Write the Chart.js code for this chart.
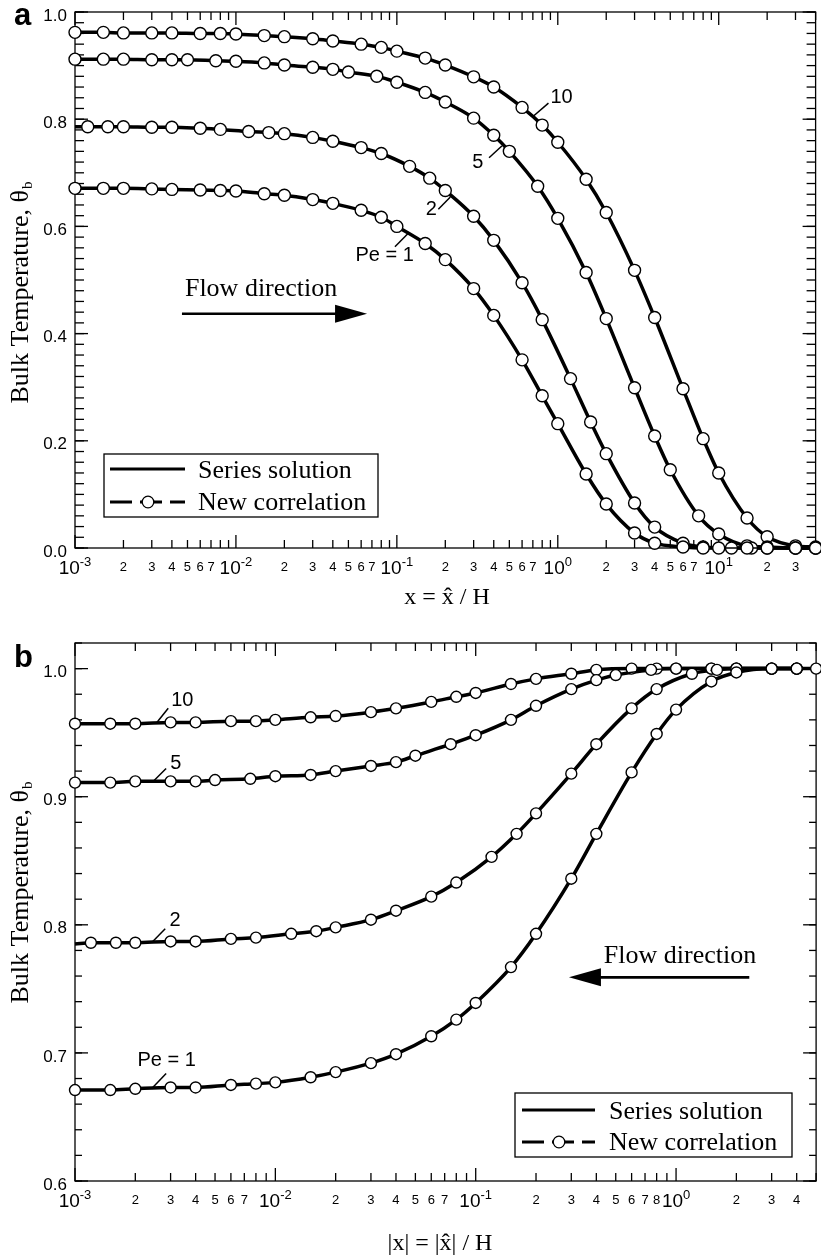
<!DOCTYPE html>
<html>
<head>
<meta charset="utf-8">
<script src="https://cdn.jsdelivr.net/npm/chart.js@4.4.1/dist/chart.umd.min.js"></script>
<style>
  html, body { margin: 0; padding: 0; background: #fff; overflow: hidden; }
  #wrapA { position: absolute; left: 0; top: 0; }
  #wrapB { position: absolute; left: 0; top: 610px; }
</style>
</head>
<body>
<div id="wrapA"><canvas id="chartA" width="823" height="610"></canvas></div>
<div id="wrapB"><canvas id="chartB" width="823" height="650"></canvas></div>
<script>
// Pe values of the four curves
var peNames = ['Pe = 1', '2', '5', '10'];

// panel a: downstream, x = x^/H
var xA1 = [0.001, 0.0015, 0.002, 0.003, 0.004, 0.006, 0.008, 0.01, 0.015, 0.02, 0.03, 0.04, 0.06, 0.08, 0.1, 0.15, 0.2, 0.3, 0.4, 0.6, 0.8, 1, 1.5, 2, 3, 4, 6, 8, 10, 15, 20, 30, 40];
var tA1 = [0.671, 0.671, 0.671, 0.670, 0.669, 0.668, 0.667, 0.666, 0.661, 0.658, 0.650, 0.643, 0.630, 0.617, 0.600, 0.568, 0.538, 0.484, 0.434, 0.351, 0.284, 0.232, 0.138, 0.082, 0.028, 0.009, 0.002, 0, 0, 0, 0, 0, 0];
var xA2 = [0.001, 0.0012, 0.0016, 0.002, 0.003, 0.004, 0.006, 0.008, 0.012, 0.016, 0.02, 0.03, 0.04, 0.06, 0.08, 0.12, 0.16, 0.2, 0.3, 0.4, 0.6, 0.8, 1.2, 1.6, 2, 3, 4, 6, 8, 12, 16, 20, 30, 40];
var tA2 = [0.786, 0.786, 0.786, 0.786, 0.785, 0.785, 0.783, 0.781, 0.777, 0.775, 0.773, 0.766, 0.759, 0.747, 0.736, 0.712, 0.690, 0.667, 0.619, 0.574, 0.495, 0.426, 0.316, 0.235, 0.176, 0.084, 0.039, 0.009, 0.002, 0, 0, 0, 0, 0];
var xA5 = [0.001, 0.0015, 0.002, 0.003, 0.004, 0.005, 0.0075, 0.01, 0.015, 0.02, 0.03, 0.04, 0.05, 0.075, 0.1, 0.15, 0.2, 0.3, 0.4, 0.5, 0.75, 1, 1.5, 2, 3, 4, 5, 7.5, 10, 15, 20, 30, 40];
var tA5 = [0.912, 0.912, 0.912, 0.911, 0.911, 0.911, 0.909, 0.908, 0.905, 0.901, 0.897, 0.893, 0.888, 0.880, 0.869, 0.850, 0.832, 0.802, 0.770, 0.740, 0.675, 0.615, 0.514, 0.428, 0.299, 0.209, 0.146, 0.060, 0.026, 0.004, 0.002, 0, 0];
var xA10 = [0.001, 0.0015, 0.002, 0.003, 0.004, 0.006, 0.008, 0.01, 0.015, 0.02, 0.03, 0.04, 0.06, 0.08, 0.1, 0.15, 0.2, 0.3, 0.4, 0.6, 0.8, 1, 1.5, 2, 3, 4, 6, 8, 10, 15, 20, 30, 40];
var tA10 = [0.962, 0.962, 0.961, 0.961, 0.961, 0.960, 0.960, 0.959, 0.956, 0.954, 0.950, 0.946, 0.940, 0.934, 0.927, 0.914, 0.901, 0.879, 0.860, 0.822, 0.789, 0.757, 0.688, 0.626, 0.518, 0.430, 0.297, 0.204, 0.140, 0.056, 0.021, 0.004, 0.002];

// panel b: upstream, |x| = |x^|/H
var xB1 = [0.001, 0.0015, 0.002, 0.003, 0.004, 0.006, 0.008, 0.01, 0.015, 0.02, 0.03, 0.04, 0.06, 0.08, 0.1, 0.15, 0.2, 0.3, 0.4, 0.6, 0.8, 1, 1.5, 2, 3, 4];
var tB1 = [0.671, 0.671, 0.672, 0.673, 0.673, 0.675, 0.676, 0.677, 0.681, 0.685, 0.692, 0.699, 0.713, 0.726, 0.739, 0.767, 0.793, 0.836, 0.871, 0.919, 0.949, 0.968, 0.990, 0.997, 1.0, 1.0];
var xB2 = [0.001, 0.0012, 0.0016, 0.002, 0.003, 0.004, 0.006, 0.008, 0.012, 0.016, 0.02, 0.03, 0.04, 0.06, 0.08, 0.12, 0.16, 0.2, 0.3, 0.4, 0.6, 0.8, 1.2, 1.6, 2, 3, 4];
var tB2 = [0.785, 0.786, 0.786, 0.786, 0.787, 0.787, 0.789, 0.790, 0.793, 0.795, 0.798, 0.804, 0.811, 0.822, 0.833, 0.853, 0.871, 0.887, 0.918, 0.941, 0.969, 0.984, 0.996, 0.999, 1.0, 1.0, 1.0];
var xB5 = [0.001, 0.0015, 0.002, 0.003, 0.004, 0.005, 0.0075, 0.01, 0.015, 0.02, 0.03, 0.04, 0.05, 0.075, 0.1, 0.15, 0.2, 0.3, 0.4, 0.5, 0.75, 1, 1.5, 2, 3, 4, 5];
var tB5 = [0.911, 0.911, 0.912, 0.912, 0.912, 0.913, 0.914, 0.916, 0.917, 0.920, 0.924, 0.927, 0.932, 0.941, 0.948, 0.960, 0.971, 0.984, 0.991, 0.995, 0.999, 1.0, 1.0, 1.0, 1.0, 1.0, 1.0];
var xB10 = [0.001, 0.0015, 0.002, 0.003, 0.004, 0.006, 0.008, 0.01, 0.015, 0.02, 0.03, 0.04, 0.06, 0.08, 0.1, 0.15, 0.2, 0.3, 0.4, 0.6, 0.8, 1, 1.5, 2, 3, 4];
var tB10 = [0.957, 0.957, 0.957, 0.958, 0.958, 0.959, 0.959, 0.960, 0.962, 0.963, 0.966, 0.969, 0.974, 0.978, 0.981, 0.988, 0.992, 0.996, 0.999, 1.0, 1.0, 1.0, 1.0, 1.0, 1.0, 1.0];

// tick labels
var yTicksA = [0, 0.2, 0.4, 0.6, 0.8, 1.0];
var yLabelsA = ['0.0', '0.2', '0.4', '0.6', '0.8', '1.0'];
var yTicksB = [0.6, 0.7, 0.8, 0.9, 1.0];
var yLabelsB = ['0.6', '0.7', '0.8', '0.9', '1.0'];
var decadesA = [-3, -2, -1, 0, 1];
var minorLabelsA = [[2, 3, 4, 5, 6, 7], [2, 3, 4, 5, 6, 7], [2, 3, 4, 5, 6, 7], [2, 3, 4, 5, 6, 7], [2, 3]];
var decadesB = [-3, -2, -1, 0];
var minorLabelsB = [[2, 3, 4, 5, 6, 7], [2, 3, 4, 5, 6, 7], [2, 3, 4, 5, 6, 7, 8], [2, 3, 4]];

var legendNames = ['Series solution', 'New correlation'];

var sans = '"Liberation Sans", Arial, sans-serif';
var serif = '"Liberation Serif", "Times New Roman", serif';

function pts(xs, ts) {
  return xs.map(function (x, i) { return { x: x, y: ts[i] }; });
}

function seg(ctx, x1, y1, x2, y2) {
  ctx.beginPath();
  ctx.moveTo(x1, y1);
  ctx.lineTo(x2, y2);
  ctx.stroke();
}

var axesPlugin = {
  id: 'axesPlugin',
  beforeDatasetsDraw: function (chart, args, o) {
    var ctx = chart.ctx, a = chart.chartArea, xs = chart.scales.x, ys = chart.scales.y;
    ctx.save();
    ctx.strokeStyle = '#000';
    ctx.fillStyle = '#000';
    ctx.lineWidth = 1.3;
    ctx.strokeRect(a.left, a.top, a.right - a.left, a.bottom - a.top);

    // x ticks, all sides pointing inward
    o.decades.forEach(function (d, k) {
      for (var m = 1; m <= 9; m++) {
        var v = m * Math.pow(10, d);
        if (v > xs.max * 1.001) continue;
        var px = xs.getPixelForValue(v);
        var len = m === 1 ? 13 : 8;
        seg(ctx, px, a.bottom, px, a.bottom - len);
        seg(ctx, px, a.top, px, a.top + len);
      }
      // decade label 10^d
      var px0 = xs.getPixelForValue(Math.pow(10, d));
      ctx.font = '19px ' + sans;
      var w1 = ctx.measureText('10').width;
      ctx.font = '13px ' + sans;
      var ex = String(d);
      var w2 = ctx.measureText(ex).width;
      var s = px0 - (w1 + w2) / 2;
      ctx.textAlign = 'left';
      ctx.textBaseline = 'alphabetic';
      ctx.font = '19px ' + sans;
      ctx.fillText('10', s, a.bottom + 26);
      ctx.font = '13px ' + sans;
      ctx.fillText(ex, s + w1, a.bottom + 18);
      // minor labels
      ctx.textAlign = 'center';
      o.minorLabels[k].forEach(function (m) {
        ctx.fillText(String(m), xs.getPixelForValue(m * Math.pow(10, d)), a.bottom + 23);
      });
    });

    // y ticks
    var nMinor = Math.round((ys.max - ys.min) / 0.02);
    for (var i = 0; i <= nMinor; i++) {
      var py = ys.getPixelForValue(ys.min + i * 0.02);
      seg(ctx, a.left, py, a.left + o.yMinorLen, py);
      seg(ctx, a.right, py, a.right - o.yMinorLen, py);
    }
    ctx.font = '17px ' + sans;
    ctx.textAlign = 'right';
    ctx.textBaseline = 'middle';
    o.yTicks.forEach(function (v, j) {
      var py = ys.getPixelForValue(v);
      seg(ctx, a.left, py, a.left + 13, py);
      seg(ctx, a.right, py, a.right - 13, py);
      ctx.fillText(o.yLabels[j], a.left - 8, py + 4);
    });

    // axis titles
    ctx.textAlign = 'center';
    ctx.textBaseline = 'alphabetic';
    ctx.font = '24px ' + serif;
    ctx.fillText(o.xTitle, o.xTitlePos[0], o.xTitlePos[1]);

    ctx.save();
    ctx.translate(o.yTitlePos[0], o.yTitlePos[1]);
    ctx.rotate(-Math.PI / 2);
    var main = 'Bulk Temperature, \u03b8';
    ctx.font = '26px ' + serif;
    var wm = ctx.measureText(main).width;
    ctx.font = '15px ' + serif;
    var wsub = ctx.measureText('b').width;
    var st = -(wm + wsub) / 2;
    ctx.textAlign = 'left';
    ctx.font = '26px ' + serif;
    ctx.fillText(main, st, 8);
    ctx.font = '15px ' + serif;
    ctx.fillText('b', st + wm + 1, 12);
    ctx.restore();

    // panel letter
    ctx.textAlign = 'left';
    ctx.font = 'bold 31px ' + sans;
    ctx.fillText(o.letter, o.letterPos[0], o.letterPos[1]);
    ctx.restore();
  },

  afterDatasetsDraw: function (chart, args, o) {
    var ctx = chart.ctx, xs = chart.scales.x, ys = chart.scales.y;
    ctx.save();
    ctx.strokeStyle = '#000';
    ctx.fillStyle = '#000';

    // curve labels with leader lines
    ctx.lineWidth = 1.5;
    ctx.font = '20px ' + sans;
    ctx.textAlign = 'left';
    ctx.textBaseline = 'middle';
    o.curveLabels.forEach(function (c, i) {
      seg(ctx, xs.getPixelForValue(c.l[0]), ys.getPixelForValue(c.l[1]),
        xs.getPixelForValue(c.l[2]), ys.getPixelForValue(c.l[3]));
      ctx.fillText(peNames[i], xs.getPixelForValue(c.t[0]), ys.getPixelForValue(c.t[1]));
    });

    // flow direction arrow
    var f = o.flow;
    ctx.textBaseline = 'alphabetic';
    ctx.font = '26px ' + serif;
    ctx.fillText('Flow direction', xs.getPixelForValue(f.text[0]), ys.getPixelForValue(f.text[1]));
    var ay = ys.getPixelForValue(f.arrow[2]);
    var x1 = xs.getPixelForValue(f.arrow[0]), x2 = xs.getPixelForValue(f.arrow[1]);
    var dir = x2 > x1 ? 1 : -1;
    ctx.lineWidth = 2.6;
    seg(ctx, x1, ay, x2 - dir * 28, ay);
    ctx.beginPath();
    ctx.moveTo(x2, ay);
    ctx.lineTo(x2 - dir * 32, ay - 9);
    ctx.lineTo(x2 - dir * 32, ay + 9);
    ctx.closePath();
    ctx.fill();

    // legend box
    var L = o.legend;
    ctx.lineWidth = 1.3;
    ctx.fillStyle = '#fff';
    ctx.fillRect(L.x, L.y, L.w, L.h);
    ctx.strokeRect(L.x, L.y, L.w, L.h);
    ctx.fillStyle = '#000';
    ctx.lineWidth = 3;
    seg(ctx, L.s0, L.r1, L.s1, L.r1);
    ctx.setLineDash([22, 8]);
    seg(ctx, L.s0, L.r2, L.s1, L.r2);
    ctx.setLineDash([]);
    ctx.beginPath();
    ctx.arc(L.c, L.r2, 5.8, 0, Math.PI * 2);
    ctx.fillStyle = '#fff';
    ctx.fill();
    ctx.lineWidth = 1.3;
    ctx.stroke();
    ctx.fillStyle = '#000';
    ctx.font = '26px ' + serif;
    ctx.fillText(legendNames[0], L.tx, L.r1 + 9);
    ctx.fillText(legendNames[1], L.tx, L.r2 + 8);
    ctx.restore();
  }
};

// curve: [xs, thetas, firstMarkerHidden]
function buildDatasets(curves, radius) {
  var sets = [];
  curves.forEach(function (c) {
    sets.push({
      label: legendNames[1],
      data: pts(c[0], c[1]),
      borderColor: '#000',
      borderWidth: 1.4,
      borderDash: [20, 6],
      pointRadius: c[0].map(function (x, i) { return (i === 0 && c[2]) ? 0 : radius; }),
      pointBackgroundColor: '#fff',
      pointBorderColor: '#000',
      pointBorderWidth: 1.4,
      cubicInterpolationMode: 'monotone',
      clip: false,
      order: 0
    });
    sets.push({
      label: legendNames[0],
      data: pts(c[0], c[1]),
      borderColor: '#000',
      borderWidth: 3.5,
      pointRadius: 0,
      cubicInterpolationMode: 'monotone',
      clip: false,
      order: 1
    });
  });
  return sets;
}

function makeChart(id, curves, xMax, yMin, yMax, pad, radius, opts) {
  return new Chart(document.getElementById(id), {
    type: 'line',
    data: { datasets: buildDatasets(curves, radius) },
    options: {
      responsive: false,
      animation: false,
      devicePixelRatio: 1,
      events: [],
      layout: { padding: pad },
      plugins: { legend: { display: false }, tooltip: { enabled: false }, axesPlugin: opts },
      scales: {
        x: { type: 'logarithmic', min: 0.001, max: xMax, display: false },
        y: { type: 'linear', min: yMin, max: yMax, display: false }
      }
    },
    plugins: [axesPlugin]
  });
}

makeChart('chartA', [[xA1, tA1], [xA2, tA2, true], [xA5, tA5], [xA10, tA10]], 40, 0, 1.0,
  { left: 75, top: 12, right: 0, bottom: 62 }, 6, {
    decades: decadesA, minorLabels: minorLabelsA,
    yTicks: yTicksA, yLabels: yLabelsA, yMinorLen: 9,
    xTitle: 'x = x\u0302 / H', xTitlePos: [447, 604],
    yTitlePos: [20, 293],
    letter: 'a', letterPos: [14, 25],
    curveLabels: [
      { t: [0.0553, 0.545], l: [0.0973, 0.562, 0.1186, 0.588] },
      { t: [0.151, 0.632], l: [0.181, 0.632, 0.215, 0.655] },
      { t: [0.294, 0.720], l: [0.374, 0.728, 0.449, 0.750] },
      { t: [0.90, 0.840], l: [0.707, 0.806, 0.875, 0.830] }
    ],
    flow: { text: [0.00482, 0.470], arrow: [0.00462, 0.0653, 0.437] },
    legend: { x: 104, y: 454, w: 274, h: 63, r1: 469, r2: 502, s0: 110, s1: 185, c: 148, tx: 198 }
  });

makeChart('chartB', [[xB1, tB1], [xB2, tB2, true], [xB5, tB5], [xB10, tB10]], 5, 0.6, 1.02,
  { left: 75, top: 33, right: 0, bottom: 79 }, 5.5, {
    decades: decadesB, minorLabels: minorLabelsB,
    yTicks: yTicksB, yLabels: yLabelsB, yMinorLen: 7,
    xTitle: '|x| = |x\u0302| / H', xTitlePos: [440, 640],
    yTitlePos: [20, 283],
    letter: 'b', letterPos: [14, 57],
    curveLabels: [
      { t: [0.00205, 0.694], l: [0.00241, 0.672, 0.00285, 0.684] },
      { t: [0.00296, 0.803], l: [0.00241, 0.786, 0.00282, 0.797] },
      { t: [0.00299, 0.926], l: [0.00246, 0.912, 0.00285, 0.922] },
      { t: [0.00302, 0.9755], l: [0.00255, 0.9575, 0.00292, 0.969] }
    ],
    flow: { text: [0.436, 0.770], arrow: [2.32, 0.292, 0.759] },
    legend: { x: 515, y: 483, w: 277, h: 64, r1: 500, r2: 532, s0: 522, s1: 595, c: 559, tx: 609 }
  });
</script>
</body>
</html>
